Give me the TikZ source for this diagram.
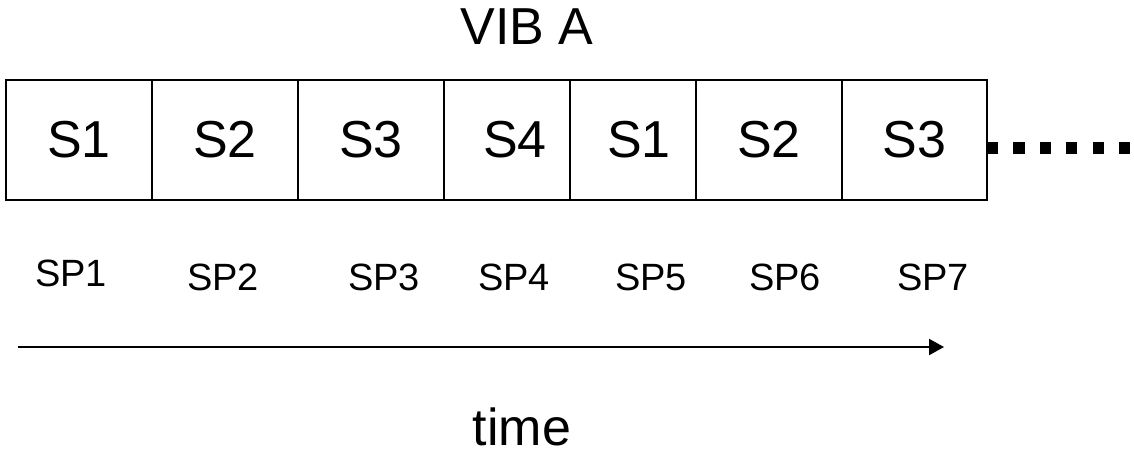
\documentclass[tikz,border=0pt]{standalone}
\usepackage{fontspec}
\setmainfont{Liberation Sans}
\usetikzlibrary{positioning,arrows.meta}
\tikzset{
  slot/.style={draw,line width=.6pt,outer sep=0pt,minimum height=60pt,minimum width=73pt,inner sep=0pt,font=\fontsize{26}{30}\selectfont},
  narrow/.style={minimum width=63pt},
  spname/.style={inner sep=0pt,font=\fontsize{19}{22}\selectfont},
  bigtext/.style={inner sep=0pt,font=\fontsize{26}{30}\selectfont}
}
\begin{document}
\begin{tikzpicture}[x=.5pt,y=-.5pt]
\useasboundingbox (0,0) rectangle (1134,455);
\node[bigtext] (vib) at (527,27) {VIB A};
\node[slot,anchor=west] (s1) at (6,140) {S1};
\node[slot,right=0pt of s1] (s2) {S2};
\node[slot,right=0pt of s2] (s3) {S3};
\node[slot,narrow,right=0pt of s3] (s4) {\hspace{8pt}S4};
\node[slot,narrow,right=0pt of s4] (s5) {\hspace{6pt}S1};
\node[slot,right=0pt of s5] (s6) {S2};
\node[slot,minimum width=72.5pt,right=0pt of s6] (s7) {S3};
\path (1134,148) coordinate (dotsend)
      (18,347) coordinate (tstart)
      (944,347) coordinate (tend);
\draw[line width=6pt,dash pattern=on 5.6pt off 7.6pt] (s7.east|-dotsend) -- (dotsend);
\foreach \x/\k/\y in {71/1/273,223/2/277,384/3/277,514/4/277,651/5/277,785/6/277,933/7/277}
  \node[spname] (sp\k) at (\x,\y) {SP\k};
\draw[line width=1.1pt,-{Triangle[length=7.5pt,width=8pt]}] (tstart) -- (tend);
\node[bigtext] (time) at (522,427) {time};
\end{tikzpicture}
\end{document}
